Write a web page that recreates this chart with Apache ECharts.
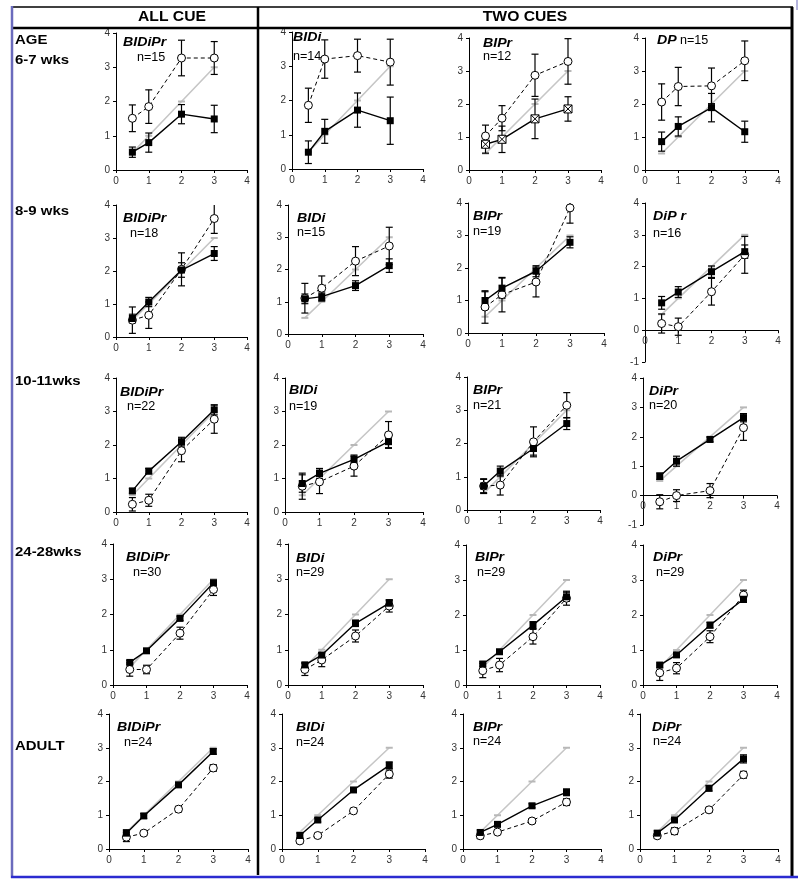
<!DOCTYPE html>
<html><head><meta charset="utf-8">
<script src="https://cdn.jsdelivr.net/npm/echarts@6/dist/echarts.min.js"></script>
<style>html,body{margin:0;padding:0;background:#fff}#c{width:800px;height:887px}</style>
</head><body><div id="c"></div>
<script>
// ---------- data ----------
const xValues = [0.5, 1, 2, 3];
const idealValues = [0.5, 1, 2, 3];
const headerLabels = ['ALL CUE', 'TWO CUES'];
const ageLabels = [['AGE', '6-7 wks'], ['8-9 wks'], ['10-11wks'], ['24-28wks'], ['ADULT']];
const cueNames = [
  ['BIDiPr', 'BIDi', 'BIPr', 'DP'],
  ['BIDiPr', 'BIDi', 'BIPr', 'DiP r'],
  ['BIDiPr', 'BIDi', 'BIPr', 'DiPr'],
  ['BIDiPr', 'BIDi', 'BIPr', 'DiPr'],
  ['BIDiPr', 'BIDi', 'BIPr', 'DiPr']];
const nValues = [[15, 14, 12, 15], [18, 15, 19, 16], [22, 19, 21, 20], [30, 29, 29, 29], [24, 24, 24, 24]];
const yMinValues = [[0, 0, 0, 0], [0, 0, 0, -1], [0, 0, 0, -1], [0, 0, 0, 0], [0, 0, 0, 0]];

// each row: one list per panel, values at x = 0.5, 1, 2, 3
const squares_6_7 = [[0.52, 0.80, 1.63, 1.49], [0.49, 1.10, 1.72, 1.41], [0.78, 0.93, 1.55, 1.85], [0.86, 1.32, 1.89, 1.16]];
const squaresErr_6_7 = [[0.15, 0.28, 0.28, 0.40], [0.33, 0.35, 0.50, 0.69], [0.27, 0.40, 0.60, 0.37], [0.29, 0.29, 0.43, 0.32]];
const circles_6_7 = [[1.51, 1.85, 3.27, 3.27], [1.86, 3.21, 3.31, 3.12], [1.03, 1.57, 2.87, 3.29], [2.06, 2.53, 2.55, 3.31]];
const circlesErr_6_7 = [[0.39, 0.49, 0.52, 0.48], [0.50, 0.56, 0.48, 0.67], [0.33, 0.38, 0.64, 0.69], [0.55, 0.58, 0.54, 0.60]];

const squares_8_9 = [[0.56, 1.06, 2.03, 2.53], [1.09, 1.16, 1.50, 2.12], [1.00, 1.38, 1.90, 2.79], [0.86, 1.20, 1.84, 2.47]];
const squaresErr_8_9 = [[0.13, 0.14, 0.22, 0.21], [0.15, 0.14, 0.15, 0.21], [0.27, 0.31, 0.17, 0.17], [0.20, 0.17, 0.18, 0.21]];
const circles_8_9 = [[0.51, 0.66, 2.05, 3.59], [1.11, 1.42, 2.26, 2.73], [0.80, 1.18, 1.57, 3.85], [0.21, 0.11, 1.21, 2.37]];
const circlesErr_8_9 = [[0.40, 0.40, 0.50, 0.45], [0.46, 0.38, 0.45, 0.58], [0.50, 0.53, 0.46, 0.47], [0.30, 0.27, 0.42, 0.58]];

const squares_10_11 = [[0.63, 1.22, 2.10, 3.05], [0.85, 1.15, 1.57, 2.10], [0.72, 1.17, 1.85, 2.60], [0.66, 1.17, 1.91, 2.65]];
const squaresErr_10_11 = [[0.07, 0.08, 0.13, 0.15], [0.26, 0.15, 0.13, 0.18], [0.22, 0.15, 0.20, 0.18], [0.11, 0.17, 0.08, 0.14]];
const circles_10_11 = [[0.23, 0.35, 1.83, 2.77], [0.77, 0.90, 1.37, 2.30], [0.72, 0.75, 2.05, 3.15], [-0.21, 0.00, 0.17, 2.31]];
const circlesErr_10_11 = [[0.20, 0.18, 0.33, 0.42], [0.39, 0.35, 0.30, 0.40], [0.20, 0.30, 0.45, 0.38], [0.24, 0.20, 0.24, 0.43]];

const squares_24_28 = [[0.64, 0.97, 1.89, 2.90], [0.57, 0.85, 1.75, 2.32], [0.60, 0.95, 1.71, 2.52], [0.57, 0.86, 1.71, 2.45]];
const squaresErr_24_28 = [[0.05, 0.05, 0.06, 0.07], [0.07, 0.07, 0.09, 0.10], [0.06, 0.06, 0.10, 0.13], [0.06, 0.06, 0.08, 0.09]];
const circles_24_28 = [[0.44, 0.44, 1.47, 2.71], [0.44, 0.71, 1.39, 2.24], [0.41, 0.57, 1.38, 2.48], [0.35, 0.48, 1.38, 2.57]];
const circlesErr_24_28 = [[0.19, 0.12, 0.17, 0.17], [0.17, 0.19, 0.17, 0.17], [0.20, 0.19, 0.21, 0.20], [0.22, 0.16, 0.17, 0.14]];

const squares_adult = [[0.47, 0.98, 1.90, 2.89], [0.40, 0.86, 1.75, 2.48], [0.49, 0.73, 1.28, 1.68], [0.47, 0.86, 1.80, 2.67]];
const squaresErr_adult = [[0.10, 0.07, 0.06, 0.08], [0.07, 0.06, 0.07, 0.10], [0.07, 0.06, 0.06, 0.10], [0.07, 0.07, 0.08, 0.12]];
const circles_adult = [[0.35, 0.47, 1.18, 2.40], [0.24, 0.40, 1.13, 2.22], [0.39, 0.50, 0.83, 1.39], [0.39, 0.53, 1.16, 2.20]];
const circlesErr_adult = [[0.13, 0.06, 0.08, 0.10], [0.07, 0.06, 0.07, 0.12], [0.08, 0.06, 0.07, 0.10], [0.07, 0.10, 0.07, 0.10]];

const squaresRows = [squares_6_7, squares_8_9, squares_10_11, squares_24_28, squares_adult];
const squaresErrRows = [squaresErr_6_7, squaresErr_8_9, squaresErr_10_11, squaresErr_24_28, squaresErr_adult];
const circlesRows = [circles_6_7, circles_8_9, circles_10_11, circles_24_28, circles_adult];
const circlesErrRows = [circlesErr_6_7, circlesErr_8_9, circlesErr_10_11, circlesErr_24_28, circlesErr_adult];

// ---------- layout (pixels) ----------
const gLeft = [[116, 292, 469, 645], [116, 288, 468, 645], [116, 285, 467, 643], [113, 288, 466, 643], [109, 282, 463, 640]];
const gRight = [[247, 423, 601, 778], [247, 423, 604, 778], [247, 423, 600, 777], [247, 423, 600, 777], [248, 425, 601, 778]];
const gTop = [[33, 32, 38, 38], [205, 205, 203, 203], [378, 378, 377, 378], [544, 544, 545, 545], [714, 714, 714, 714]];
const gBottom = [[170, 169, 170, 170], [337, 334, 333, 362], [512, 512, 510, 525], [685, 685, 685, 685], [849, 849, 849, 849]];
const titlePos = [[[123, 43], [293, 38], [483, 44], [657, 41]], [[123, 219], [297, 219], [473, 217], [653, 217]], [[120, 393], [289, 391], [473, 391], [649, 392]], [[126, 558], [296, 559], [475, 558], [653, 558]], [[117, 728], [296, 728], [473, 728], [652, 728]]];
const nPos = [[[137, 58], [293, 57], [483, 57], [680, 41]], [[130, 234], [297, 233], [473, 232], [653, 234]], [[127, 407], [289, 407], [473, 406], [649, 406]], [[133, 573], [296, 573], [477, 573], [656, 573]], [[124, 743], [296, 743], [473, 742], [653, 742]]];
const agePos = [[[15, 40], [15, 60]], [[15, 211]], [[15, 381]], [[15, 552]], [[15, 746]]];

const FONT = '"Liberation Sans", Arial, sans-serif';

function errRender(params, api) {
  const x = api.value(0), y = api.value(1), e = api.value(2);
  const top = api.coord([x, y + e]);
  const bot = api.coord([x, y - e]);
  const w = 3.5;
  const st = { stroke: '#000', lineWidth: 1.2 };
  return {
    type: 'group', children: [
      { type: 'line', shape: { x1: top[0], y1: top[1], x2: bot[0], y2: bot[1] }, style: st },
      { type: 'line', shape: { x1: top[0] - w, y1: top[1], x2: top[0] + w, y2: top[1] }, style: st },
      { type: 'line', shape: { x1: bot[0] - w, y1: bot[1], x2: bot[0] + w, y2: bot[1] }, style: st }
    ]
  };
}

const grids = [], xAxes = [], yAxes = [], series = [], graphics = [];
const tickStyle = { show: true, length: 3, lineStyle: { color: '#000' } };
const labelStyle = { fontFamily: FONT, fontSize: 10, color: '#333' };
const crossedSquare = 'path://M0,0 H10 V10 H0 Z M0,0 L10,10 M10,0 L0,10';

for (let r = 0; r < 5; r++) {
  for (let c = 0; c < 4; c++) {
    const g = r * 4 + c;
    const h = gBottom[r][c] - gTop[r][c];
    const ymin = yMinValues[r][c];
    const zeroOffset = ymin < 0 ? -(h * (0 - ymin) / (4 - ymin)) : 0;
    grids.push({ left: gLeft[r][c], top: gTop[r][c], width: gRight[r][c] - gLeft[r][c], height: h });
    xAxes.push({
      type: 'value', gridIndex: g, min: 0, max: 4, interval: 1, position: 'bottom', offset: zeroOffset,
      axisLine: { onZero: false, lineStyle: { color: '#000', width: 1 } },
      axisTick: tickStyle, axisLabel: Object.assign({ margin: 6 }, labelStyle), splitLine: { show: false }
    });
    yAxes.push({
      type: 'value', gridIndex: g, min: ymin, max: 4, interval: 1,
      axisLine: { onZero: false, lineStyle: { color: '#000', width: 1 } },
      axisTick: tickStyle, axisLabel: Object.assign({ margin: 6 }, labelStyle), splitLine: { show: false }
    });

    const sq = squaresRows[r][c], sqE = squaresErrRows[r][c];
    const ci = circlesRows[r][c], ciE = circlesErrRows[r][c];
    series.push({
      type: 'line', xAxisIndex: g, yAxisIndex: g, z: 1,
      data: xValues.map((x, i) => [x, idealValues[i]]),
      lineStyle: { color: '#c6c6c6', width: 1.6 }, symbol: 'rect', symbolSize: [7, 2],
      itemStyle: { color: '#b8b8b8' }, silent: true
    });
    series.push({
      type: 'custom', xAxisIndex: g, yAxisIndex: g, z: 2, clip: true,
      renderItem: errRender, encode: { x: 0, y: 1 },
      data: xValues.map((x, i) => [x, ci[i], ciE[i]]), silent: true
    });
    series.push({
      type: 'custom', xAxisIndex: g, yAxisIndex: g, z: 2, clip: true,
      renderItem: errRender, encode: { x: 0, y: 1 },
      data: xValues.map((x, i) => [x, sq[i], sqE[i]]), silent: true
    });
    series.push({
      type: 'line', xAxisIndex: g, yAxisIndex: g, z: 3,
      data: xValues.map((x, i) => [x, ci[i]]),
      lineStyle: { color: '#000', width: 1, type: [4, 3] },
      symbol: 'circle', symbolSize: 8,
      itemStyle: { color: '#fff', borderColor: '#000', borderWidth: 1 }, silent: true
    });
    const crossed = (r === 0 && c === 2);
    series.push({
      type: 'line', xAxisIndex: g, yAxisIndex: g, z: 4,
      data: xValues.map((x, i) => [x, sq[i]]),
      lineStyle: { color: '#000', width: 1.4 },
      symbol: crossed ? crossedSquare : 'rect', symbolSize: crossed ? 8 : 7,
      itemStyle: crossed ? { color: '#fff', borderColor: '#000', borderWidth: 1 } : { color: '#000' },
      silent: true
    });

    graphics.push({
      type: 'text', x: titlePos[r][c][0], y: titlePos[r][c][1], scaleX: 1.18,
      style: { text: cueNames[r][c], font: 'italic bold 12px ' + FONT, fill: '#000', textVerticalAlign: 'middle' }
    });
    graphics.push({
      type: 'text', x: nPos[r][c][0], y: nPos[r][c][1], scaleX: 1.05,
      style: { text: 'n=' + nValues[r][c], font: '12px ' + FONT, fill: '#000', textVerticalAlign: 'middle' }
    });
  }
  ageLabels[r].forEach((t, k) => {
    graphics.push({
      type: 'text', x: agePos[r][k][0], y: agePos[r][k][1], scaleX: 1.15,
      style: { text: t, font: 'bold 13px ' + FONT, fill: '#000', textVerticalAlign: 'middle' }
    });
  });
}

// header texts
graphics.push({ type: 'text', x: 172, y: 17, scaleX: 1.12, style: { text: headerLabels[0], font: 'bold 14px ' + FONT, fill: '#000', textAlign: 'center', textVerticalAlign: 'middle' } });
graphics.push({ type: 'text', x: 525, y: 17, scaleX: 1.12, style: { text: headerLabels[1], font: 'bold 14px ' + FONT, fill: '#000', textAlign: 'center', textVerticalAlign: 'middle' } });

// frame lines
function seg(x1, y1, x2, y2, color, w) {
  graphics.push({ type: 'line', shape: { x1, y1, x2, y2 }, style: { stroke: color, lineWidth: w }, z: 10 });
}
seg(12, 7, 793, 7, '#000', 1.5);        // header top
seg(12, 28, 793, 28, '#000', 2.5);      // header bottom
seg(258, 7, 258, 875, '#000', 2.5);     // separator
seg(792, 7, 792, 876, '#000', 3);       // right border
seg(12, 6, 12, 878, '#6b6bbd', 2.5);    // left border
seg(11, 877, 798, 877, '#2b2bd0', 2.5); // bottom border
seg(797, 0, 797, 10, '#6b6bbd', 1);

const chart = echarts.init(document.getElementById('c'), null, { renderer: 'canvas' });
chart.setOption({
  animation: false,
  backgroundColor: '#fff',
  grid: grids, xAxis: xAxes, yAxis: yAxes, series: series,
  graphic: { elements: graphics }
});
</script></body></html>
